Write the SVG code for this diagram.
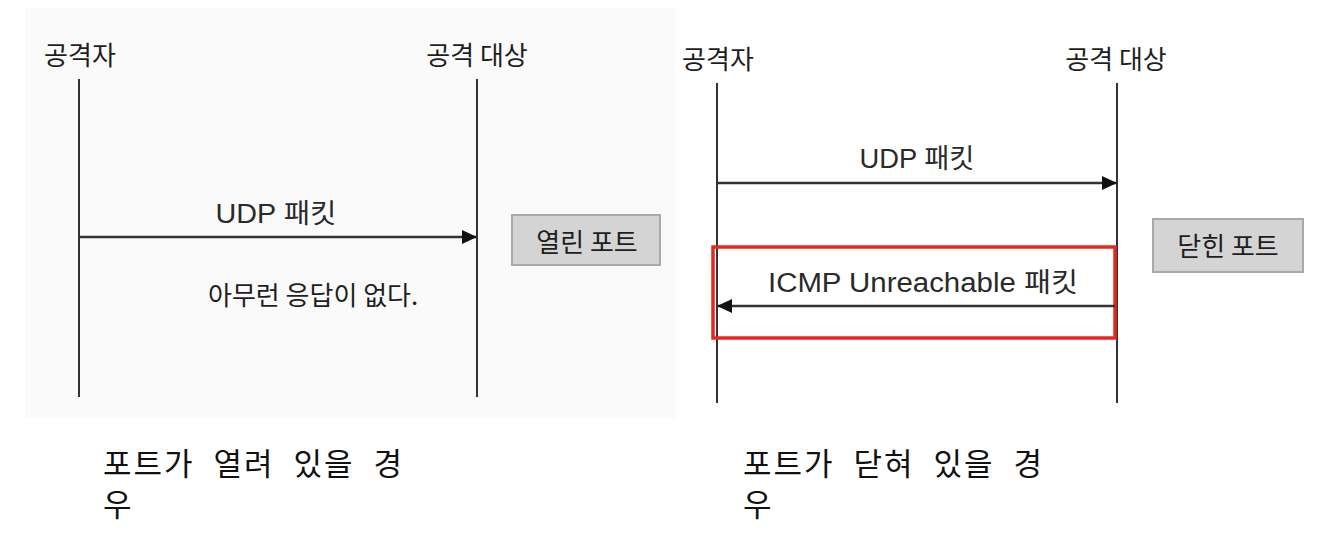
<svg xmlns="http://www.w3.org/2000/svg" width="1344" height="556" viewBox="0 0 1344 556">
<style>
.lbl{font-family:"Noto Sans CJK KR","Noto Sans",sans-serif;font-size:26px;fill:#1e1e1e;text-anchor:middle}
.msg{font-family:"Liberation Sans","Noto Sans CJK KR",sans-serif;font-size:27px;fill:#2a2a2a;text-anchor:middle}
.life{stroke:#333;stroke-width:2;fill:none}
.arr{stroke:#333;stroke-width:2.5;fill:none}
.port{fill:#d4d4d4;stroke:#a9a9a9;stroke-width:2}
.cap{font-family:"Noto Sans CJK KR","Noto Sans",sans-serif;font-size:31px;fill:#111;letter-spacing:2px;word-spacing:10px}
</style>
<defs>
<marker id="ah" viewBox="0 0 15 14" refX="15" refY="7" markerWidth="15" markerHeight="14" markerUnits="userSpaceOnUse" orient="auto">
<path d="M0,0 L15,7 L0,14 Z" fill="#111"/>
</marker>
</defs>
<rect x="25" y="8" width="650" height="410" fill="#fafafa"/>
<g id="left-attacker">
<text class="lbl" x="80" y="65">공격자</text>
<line class="life" x1="79" y1="79" x2="79" y2="397"/>
</g>
<g id="left-target">
<text class="lbl" x="477" y="65">공격 대상</text>
<line class="life" x1="477" y1="79" x2="477" y2="397"/>
</g>
<g id="left-open-port">
<rect class="port" x="512" y="215" width="148" height="50"/>
<text class="lbl" x="587" y="252">열린 포트</text>
</g>
<g id="left-no-response">
<text class="lbl" x="208" y="305" style="text-anchor:start">아무런 응답이 없다.</text>
</g>
<g id="right-attacker">
<text class="lbl" x="718" y="69">공격자</text>
<line class="life" x1="717" y1="83" x2="717" y2="403"/>
</g>
<g id="right-target">
<text class="lbl" x="1116" y="69">공격 대상</text>
<line class="life" x1="1117" y1="83" x2="1117" y2="403"/>
</g>
<g id="right-closed-port">
<rect class="port" x="1153" y="219" width="150" height="53"/>
<text class="lbl" x="1228" y="256">닫힌 포트</text>
</g>
<g id="highlight">
<rect x="713" y="247" width="402" height="91" fill="none" stroke="#e8281e" stroke-width="3.5"/>
</g>
<g id="connectors">
<line class="arr" x1="79" y1="237" x2="477" y2="237" marker-end="url(#ah)"/>
<text class="msg" x="276" y="223" textLength="121" lengthAdjust="spacingAndGlyphs">UDP 패킷</text>
<line class="arr" x1="717" y1="183" x2="1117" y2="183" marker-end="url(#ah)"/>
<text class="msg" x="917" y="168" textLength="115" lengthAdjust="spacingAndGlyphs">UDP 패킷</text>
<line class="arr" x1="1115" y1="306" x2="717" y2="306" marker-end="url(#ah)"/>
<text class="msg" x="923" y="292" textLength="310" lengthAdjust="spacingAndGlyphs">ICMP Unreachable 패킷</text>
</g>
<g id="caption-left">
<text class="cap" x="103" y="475">포트가 열려 있을 경</text>
<text class="cap" x="103" y="516">우</text>
</g>
<g id="caption-right">
<text class="cap" x="743" y="475">포트가 닫혀 있을 경</text>
<text class="cap" x="743" y="516">우</text>
</g>
</svg>
